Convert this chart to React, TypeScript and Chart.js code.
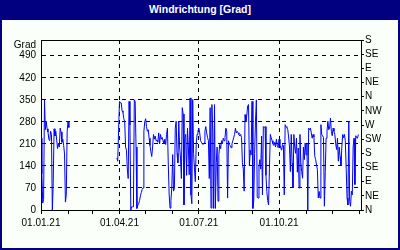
import React, { useEffect, useRef } from 'react';
import { Chart, registerables } from 'chart.js';

Chart.register(...registerables);

// X axis: days since 01.01.21, ticks at month starts, labels at quarter starts
const monthTickDays = [0, 31, 59, 90, 120, 151, 181, 212, 243, 273, 304, 334, 365];
const quarterTickDays = [0, 90, 181, 273];
const quarterLabels = ['01.01.21', '01.04.21', '01.07.21', '01.10.21'];

// Y axes
const degreeTicks = [0, 70, 140, 210, 280, 350, 420, 490];
const compassTicks = [0, 45, 90, 135, 180, 225, 270, 315, 360, 405, 450, 495, 540];
const compassLabels = ['N', 'NE', 'E', 'SE', 'S', 'SW', 'W', 'NW', 'N', 'NE', 'E', 'SE', 'S'];

// Daily wind direction [Grad], segments by start day
const startJan = 0;
const windJan = [228, 115, 22, 34, 350, 255, 282, 258, 248, 225, 220, 250, 240, 0, 85, 258, 235, 250, 222, 195,
  212, 200, 260, 248, 215, 225, 205, 178, 25, 48, 250, 282, 262];

const startSpring = 87;
const windSpring = [165, 155, 255, 345, 340, 340, 315, 310, 290, 280, 200, 190, 130, 100, 345, 270, 0, 10, 10, 10,
  350, 345, 200, 5, 15, 20, 30, 45, 55, 65, 70, 250, 280, 290, 265, 250, 255, 228, 205, 185,
  170, 200, 240, 225, 235, 220, 222, 215, 245, 210, 240, 225, 230, 220, 210, 225, 208, 240, 260, 143,
  48, 6, 30, 70, 176, 60, 70, 260, 282, 180, 150, 282, 200, 165, 100, 325, 305, 16, 228, 240,
  110, 260, 200, 112, 356, 48, 20, 351, 180, 130, 90, 208, 240, 250];

const startSummer = 181;
const windSummer = [260, 245, 220, 215, 210, 208, 213, 250, 265, 245, 230, 220, 100, 325, 6, 335, 250, 5, 335, 5,
  150, 200, 28, 176, 208, 195, 220, 210, 228, 220, 230, 260, 250, 38, 220, 208, 205, 198, 210, 220,
  230, 240, 260, 245, 250, 245, 240, 235, 240, 230, 150, 130, 60, 303, 280, 300, 330, 335, 140, 190,
  175, 345, 5, 30, 180, 282, 350, 40, 38, 140, 160, 130, 235, 48, 265, 262, 265, 110, 59, 30,
  16, 133, 240, 230, 220, 210, 205, 215, 200, 225, 205, 198];

const startAutumn = 273;
const windAutumn = [225, 208, 197, 190, 208, 205, 48, 271, 265, 262, 255, 232, 200, 122, 240, 150, 70, 240, 200, 180,
  228, 120, 197, 70, 240, 150, 122, 101, 200, 160, 213, 175, 210, 0, 260, 255, 260, 245, 228, 240,
  232, 170, 160, 143, 128, 38, 59, 38, 271, 240, 236, 230, 12, 122, 228, 250, 282, 255, 260, 292,
  250, 236, 260, 250, 240, 210, 192, 228, 155, 200, 170, 140, 200, 240, 230, 240, 220, 133, 38, 16,
  282, 27, 12, 60, 48, 200, 228, 81, 236, 230, 228, 240];

const gapDay = 33;

function toPoints(start: number, values: number[]) {
  return values.map((v, i) => ({ x: start + i, y: v }));
}

const framePlugin = {
  id: 'frame',
  afterDraw(chart: any) {
    const { ctx, chartArea: a } = chart;
    ctx.save();
    ctx.strokeStyle = '#000';
    ctx.lineWidth = 1;
    ctx.setLineDash([]);
    const l = Math.round(a.left) + 0.5;
    const t = Math.round(a.top) + 0.5;
    const r = Math.round(a.right) + 0.5;
    const b = Math.round(a.bottom) + 0.5;
    ctx.beginPath();
    ctx.moveTo(l, t);
    ctx.lineTo(r, t);
    ctx.lineTo(r, b);
    ctx.lineTo(l, b);
    ctx.closePath();
    ctx.stroke();
    ctx.fillStyle = '#000';
    ctx.font = '10px "Liberation Sans", Arial, sans-serif';
    ctx.textAlign = 'right';
    ctx.textBaseline = 'middle';
    ctx.fillText('Grad', a.left - 5, a.top + 5);
    ctx.restore();
  },
};

export default function App() {
  const ref = useRef<HTMLCanvasElement | null>(null);

  useEffect(() => {
    if (!ref.current) return;
    Chart.defaults.font.family = '"Liberation Sans", Arial, sans-serif';
    Chart.defaults.font.size = 10;
    Chart.defaults.color = '#000';

    const points = [
      ...toPoints(startJan, windJan),
      { x: gapDay, y: null as any },
      ...toPoints(startSpring, windSpring),
      ...toPoints(startSummer, windSummer),
      ...toPoints(startAutumn, windAutumn),
    ];

    const chart = new Chart(ref.current, {
      type: 'line',
      data: {
        datasets: [
          {
            data: points as any,
            borderColor: '#0000ff',
            borderWidth: 1,
            pointRadius: 0,
            tension: 0,
            spanGaps: false,
            yAxisID: 'y',
            xAxisID: 'x',
          },
        ],
      },
      options: {
        animation: false,
        responsive: false,
        devicePixelRatio: 1,
        layout: { padding: { top: 40, left: 0, right: 0, bottom: 0 } },
        plugins: {
          legend: { display: false },
          tooltip: { enabled: false },
          title: { display: false },
        },
        scales: {
          x: {
            type: 'linear',
            position: 'bottom',
            min: 0,
            max: 367,
            afterBuildTicks: (s: any) => {
              s.ticks = monthTickDays.map((v) => ({ value: v }));
            },
            afterFit: (s: any) => {
              s.height = 40;
            },
            ticks: {
              autoSkip: false,
              maxRotation: 0,
              minRotation: 0,
              padding: 3,
              color: '#000',
              callback: (v: any) => {
                const i = quarterTickDays.indexOf(Number(v));
                return i >= 0 ? quarterLabels[i] : '';
              },
            },
            grid: {
              color: (c: any) =>
                c.tick && c.tick.value !== 0 && quarterTickDays.includes(c.tick.value) ? '#000' : 'rgba(0,0,0,0)',
              tickColor: '#000',
              tickLength: 4,
              lineWidth: 1,
            },
            border: { display: true, color: '#000', dash: [4, 4] },
          },
          y: {
            type: 'linear',
            position: 'left',
            min: 0,
            max: 540,
            afterBuildTicks: (s: any) => {
              s.ticks = degreeTicks.map((v) => ({ value: v }));
            },
            afterFit: (s: any) => {
              s.width = 41;
            },
            ticks: { autoSkip: false, padding: 5, color: '#000', callback: (v: any) => String(v) },
            grid: { color: '#000', drawTicks: false, lineWidth: 1 },
            border: { display: true, color: '#000', dash: [4, 4] },
          },
          y2: {
            type: 'linear',
            position: 'right',
            min: 0,
            max: 540,
            afterBuildTicks: (s: any) => {
              s.ticks = compassTicks.map((v) => ({ value: v }));
            },
            afterFit: (s: any) => {
              s.width = 39;
            },
            ticks: {
              autoSkip: false,
              padding: 1,
              color: '#000',
              callback: (_v: any, i: number) => compassLabels[i],
            },
            grid: { drawOnChartArea: false, tickLength: 3, tickColor: '#000', color: '#000' },
            border: { display: true, color: '#000' },
          },
        },
      },
      plugins: [framePlugin],
    });

    return () => chart.destroy();
  }, []);

  return (
    <div style={{ position: 'fixed', left: 0, top: 0, width: 400, height: 250, background: '#000080' }}>
      <div
        style={{
          position: 'absolute',
          left: 0,
          top: 0,
          width: 400,
          height: 20,
          color: '#ffffff',
          font: 'bold 10.5px "Liberation Sans", Arial, sans-serif',
          textAlign: 'center',
          lineHeight: '18px',
        }}
      >
        Windrichtung [Grad]
      </div>
      <div style={{ position: 'absolute', left: 2, top: 20, width: 396, height: 228, background: '#fafffa' }} />
      <canvas ref={ref} width={400} height={250} style={{ position: 'absolute', left: 0, top: 0, display: 'block' }} />
    </div>
  );
}
